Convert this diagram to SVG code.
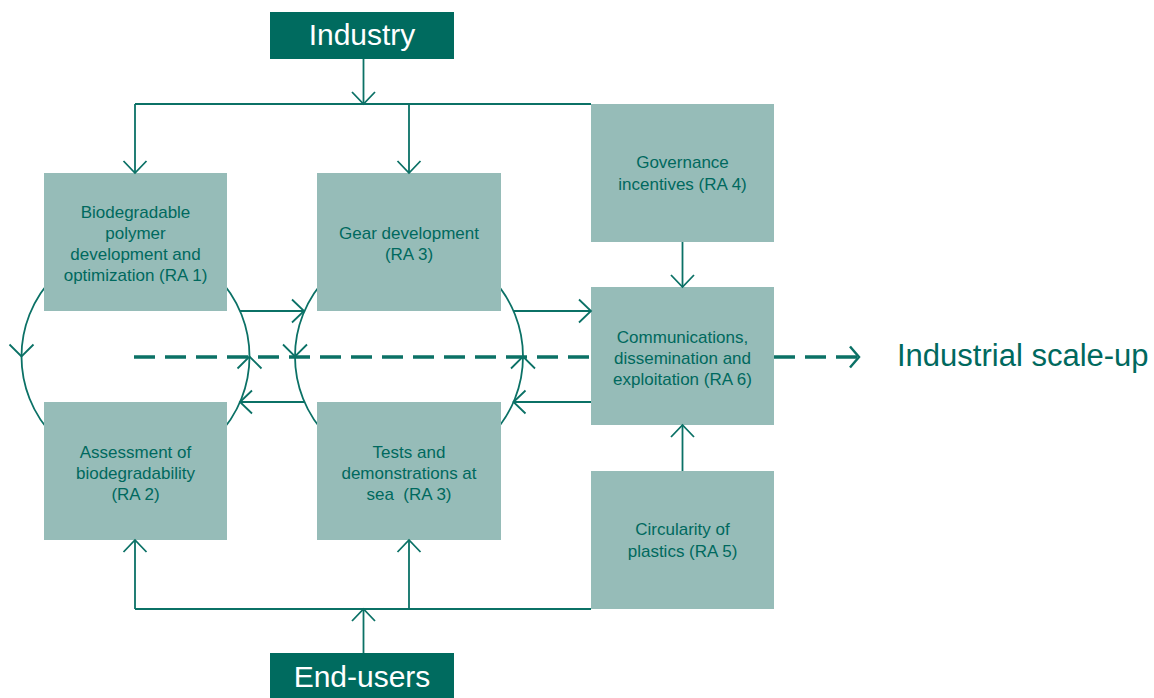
<svg xmlns="http://www.w3.org/2000/svg" width="1154" height="698" viewBox="0 0 1154 698">
<style>
.box{fill:#96BCB8;}
.dark{fill:#006B5F;}
.t{font-family:"Liberation Sans",Arial,sans-serif;font-size:17px;fill:#00695E;text-anchor:middle;}
.big{font-family:"Liberation Sans",Arial,sans-serif;font-size:30px;fill:#ffffff;text-anchor:middle;}
.ln{fill:none;stroke:#0B7166;stroke-width:1.8;}
.dash{fill:none;stroke:#0B7166;stroke-width:3.5;stroke-dasharray:21 10;}
</style>
<defs>
<marker id="arr" viewBox="-14 -14 28 28" refX="0" refY="0" markerWidth="28" markerHeight="28" markerUnits="userSpaceOnUse" orient="auto">
<path d="M-12,-11.5 L0,0 L-12,11.5" fill="none" stroke="#0B7166" stroke-width="1.8" stroke-dasharray="none"/>
</marker>
<marker id="arrd" viewBox="-14 -14 28 28" refX="0" refY="0" markerWidth="28" markerHeight="28" markerUnits="userSpaceOnUse" orient="auto">
<path d="M-9,-10.5 L0,0 L-9,10.5" fill="none" stroke="#0B7166" stroke-width="2.5" stroke-dasharray="none"/>
</marker>
</defs>
<g id="cycles">
<circle class="ln" cx="135.5" cy="356.5" r="114"/>
<circle class="ln" cx="409" cy="356.5" r="114"/>
<polyline class="ln" points="9.5,344.5 21.5,356.5 33.5,344.5"/>
<polyline class="ln" points="237.5,368.5 249.5,356.5 261.5,368.5"/>
<polyline class="ln" points="283,344.5 295,356.5 307,344.5"/>
<polyline class="ln" points="511,368.5 523,356.5 535,368.5"/>
</g>
<g id="industry">
<rect class="dark" x="270" y="12" width="184" height="47"/>
<text class="big" x="362" y="45">Industry</text>
</g>
<g id="endusers">
<rect class="dark" x="270" y="653" width="184" height="47"/>
<text class="big" x="362" y="687">End-users</text>
</g>
<g id="ra1">
<rect class="box" x="44" y="173" width="183" height="138"/>
<text class="t" x="135.5" y="218">Biodegradable</text>
<text class="t" x="135.5" y="239">polymer</text>
<text class="t" x="135.5" y="260">development and</text>
<text class="t" x="135.5" y="281">optimization (RA 1)</text>
</g>
<g id="ra3gear">
<rect class="box" x="317" y="173" width="184" height="138"/>
<text class="t" x="409" y="239">Gear development</text>
<text class="t" x="409" y="260">(RA 3)</text>
</g>
<g id="ra4">
<rect class="box" x="591" y="104" width="183" height="138"/>
<text class="t" x="682.5" y="168">Governance</text>
<text class="t" x="682.5" y="190">incentives (RA 4)</text>
</g>
<g id="ra6">
<rect class="box" x="591" y="287" width="183" height="138"/>
<text class="t" x="682.5" y="343">Communications,</text>
<text class="t" x="682.5" y="364">dissemination and</text>
<text class="t" x="682.5" y="385">exploitation (RA 6)</text>
</g>
<g id="ra2">
<rect class="box" x="44" y="402" width="183" height="138"/>
<text class="t" x="135.5" y="458">Assessment of</text>
<text class="t" x="135.5" y="479">biodegradability</text>
<text class="t" x="135.5" y="500">(RA 2)</text>
</g>
<g id="ra3tests">
<rect class="box" x="317" y="402" width="184" height="138"/>
<text class="t" x="409" y="458">Tests and</text>
<text class="t" x="409" y="479">demonstrations at</text>
<text class="t" x="409" y="500" xml:space="preserve">sea  (RA 3)</text>
</g>
<g id="ra5">
<rect class="box" x="591" y="471" width="183" height="138"/>
<text class="t" x="682.5" y="535">Circularity of</text>
<text class="t" x="682.5" y="557">plastics (RA 5)</text>
</g>
<g id="scaleup">
<text x="897" y="366" font-family="Liberation Sans, Arial, sans-serif" font-size="31" fill="#00695E">Industrial scale-up</text>
</g>
<g id="connectors">
<path class="ln" d="M363.5,59 V104" marker-end="url(#arr)"/>
<path class="ln" d="M135,104 H591"/>
<path class="ln" d="M135,104 V173" marker-end="url(#arr)"/>
<path class="ln" d="M409,104 V173" marker-end="url(#arr)"/>
<path class="ln" d="M682.5,242 V287" marker-end="url(#arr)"/>
<path class="ln" d="M682.5,471 V425" marker-end="url(#arr)"/>
<path class="ln" d="M135,609 H591"/>
<path class="ln" d="M135,609 V540" marker-end="url(#arr)"/>
<path class="ln" d="M409,609 V540" marker-end="url(#arr)"/>
<path class="ln" d="M363.5,653 V609" marker-end="url(#arr)"/>
<path class="ln" d="M240,311 H304" marker-end="url(#arr)"/>
<path class="ln" d="M304.5,402 H240" marker-end="url(#arr)"/>
<path class="ln" d="M513.5,311 H591" marker-end="url(#arr)"/>
<path class="ln" d="M591,402 H513.5" marker-end="url(#arr)"/>
<path class="dash" d="M134,357 H591"/>
<path class="dash" d="M774,357 H859" marker-end="url(#arrd)"/>
</g>
</svg>
